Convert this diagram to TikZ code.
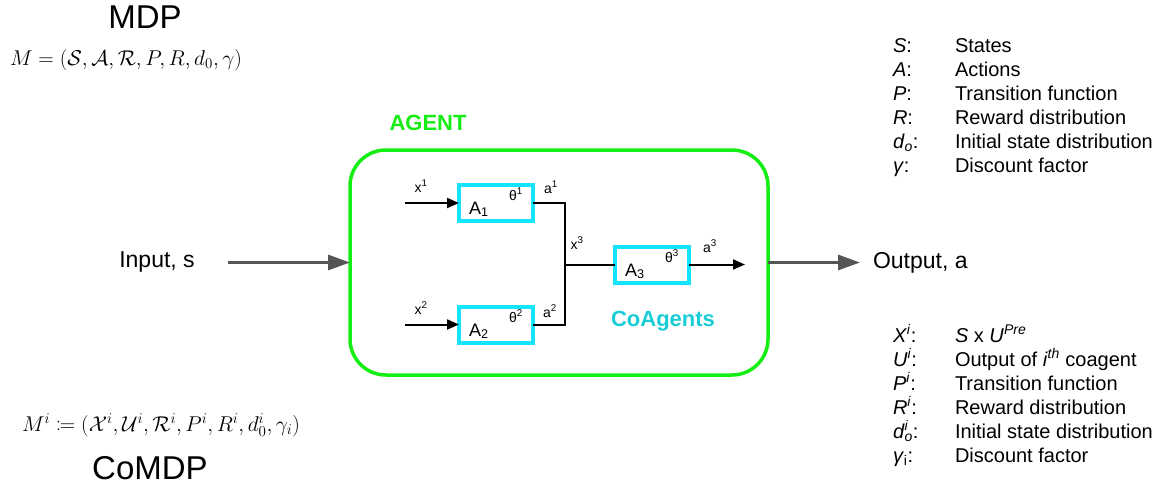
\RequirePackage{fix-cm}
\documentclass[tikz,border=0pt]{standalone}
\usepackage{mathtools}
\usepackage{fontspec}
\setmainfont{Liberation Sans}
\usetikzlibrary{arrows.meta}
\definecolor{agentgreen}{RGB}{20,238,20}
\definecolor{boxcyan}{RGB}{20,228,255}
\definecolor{textcyan}{RGB}{25,205,215}
\definecolor{iogray}{RGB}{85,85,85}
\newcommand{\fsz}[1]{\fontsize{#1}{#1}\selectfont}

\begin{document}
\begin{tikzpicture}
[x=1pt,y=-1pt,
 every node/.style={inner sep=0pt,outer sep=0pt},
 agent/.style={rectangle,draw=agentgreen,line width=3.5pt,rounded corners=36pt,minimum width=418pt,minimum height=225pt},
 coagent/.style={rectangle,draw=boxcyan,line width=4pt,minimum width=74pt,minimum height=36pt},
 sig/.style={line width=2pt,-{Triangle[length=12pt,width=10pt]}},
 wire/.style={line width=2pt,line join=miter},
 io/.style={draw=iogray,line width=3pt,-{Triangle[length=22pt,width=15pt]}},
 tag/.style={anchor=base,font=\fsz{14}},
 aname/.style={anchor=base west,font=\fsz{18}},
 leg/.style={anchor=base west,font=\fsz{20}},
 title/.style={font=\fsz{33}},
 eq/.style={anchor=base west,font=\fsz{21.4}}]
\useasboundingbox (0,0) rectangle (1171,488);

% titles and tuples
\node[title] (mdp)   at (145,17)  {MDP};
\node[eq]    (mdpeq) at (10,65)   {$M = (\mathcal{S},\mathcal{A},\mathcal{R},P,R,d_0,\gamma)$};
\node[eq]    (coeq)  at (22,431)  {$M^i \coloneqq (\mathcal{X}^i,\mathcal{U}^i,\mathcal{R}^i,P^i,R^i,d^i_0,\gamma_i)$};
\node[title] (comdp) at (150,468) {CoMDP};

% agent
\node[agent] (agent) at (559,262.5) {};
\node[font=\fsz{22}\bfseries,text=agentgreen] (agentlbl) at (428,123) {AGENT};
\node[font=\fsz{22}\bfseries,text=textcyan]   (colbl)    at (663,321) {CoAgents};

\node[coagent] (A1) at (496,203)   {};
\node[coagent] (A2) at (496,324.5) {};
\node[coagent] (A3) at (652,264.5) {};
\node[aname] (n1) at (469,214) {A\textsubscript{1}};
\node[aname] (n2) at (469,336) {A\textsubscript{2}};
\node[aname] (n3) at (625,276) {A\textsubscript{3}};
\node[tag] (t1) at (516,200) {θ\textsuperscript{1}};
\node[tag] (t2) at (516,322) {θ\textsuperscript{2}};
\node[tag] (t3) at (672,262) {θ\textsuperscript{3}};

\node[tag] (lx1) at (421,192) {x\textsuperscript{1}};
\node[tag] (lx2) at (421,314) {x\textsuperscript{2}};
\node[tag] (lx3) at (577,249) {x\textsuperscript{3}};
\node[tag] (la1) at (551,193) {a\textsuperscript{1}};
\node[tag] (la2) at (550,317) {a\textsuperscript{2}};
\node[tag] (la3) at (710,252) {a\textsuperscript{3}};

\coordinate (in1) at (405,203);
\coordinate (in2) at (405,324.5);
\coordinate (j)   at (565,264.5);
\coordinate (o3)  at (745,264.5);
\draw[sig]  (in1) -- (A1.west);
\draw[sig]  (in2) -- (A2.west);
\draw[wire] (A1.east) -| (j) |- (A2.east);
\draw[wire] (j) -- (A3.west);
\draw[sig]  (A3.east) -- (o3);

% input and output
\node[font=\fsz{23}] (in)  at (157,262) {Input, s};
\node[font=\fsz{23},anchor=west] (out) at (873,263) {Output, a};
\draw[io,shorten <=33pt] (in.east |- agent.west) -- (agent.west);
\draw[io,shorten >=13pt] (agent.east) -- (agent.east -| out.west);

% MDP legend
\node[leg] (kS) at (893,52)  {\textit{S}:};
\node[leg] (kA) at (893,76)  {\textit{A}:};
\node[leg] (kP) at (893,100) {\textit{P}:};
\node[leg] (kR) at (893,124) {\textit{R}:};
\node[leg] (kd) at (893,148) {\textit{d}\textsubscript{\textit{o}}:};
\node[leg] (kg) at (893,172) {\textit{γ}:};
\node[leg] (vS) at (955,52)  {States};
\node[leg] (vA) at (955,76)  {Actions};
\node[leg] (vP) at (955,100) {Transition function};
\node[leg] (vR) at (955,124) {Reward distribution};
\node[leg] (vd) at (955,148) {Initial state distribution};
\node[leg] (vg) at (955,172) {Discount factor};

% CoMDP legend
\node[leg] (cX) at (893,342) {\textit{X}\textsuperscript{\textit{i}}:};
\node[leg] (cU) at (893,366) {\textit{U}\textsuperscript{\textit{i}}:};
\node[leg] (cP) at (893,390) {\textit{P}\textsuperscript{\textit{i}}:};
\node[leg] (cR) at (893,414) {\textit{R}\textsuperscript{\textit{i}}:};
\node[leg] (cd) at (893,438) {\textit{d}\rlap{\textsuperscript{\textit{i}}}\textsubscript{\textit{o}}:};
\node[leg] (cg) at (893,462) {\textit{γ}\textsubscript{i}:};
\node[leg] (wX) at (955,342) {\textit{S} x \textit{U}\textsuperscript{\textit{Pre}}};
\node[leg] (wU) at (955,366) {Output of \textit{i}\textsuperscript{\textit{th}} coagent};
\node[leg] (wP) at (955,390) {Transition function};
\node[leg] (wR) at (955,414) {Reward distribution};
\node[leg] (wd) at (955,438) {Initial state distribution};
\node[leg] (wg) at (955,462) {Discount factor};
\end{tikzpicture}
\end{document}
